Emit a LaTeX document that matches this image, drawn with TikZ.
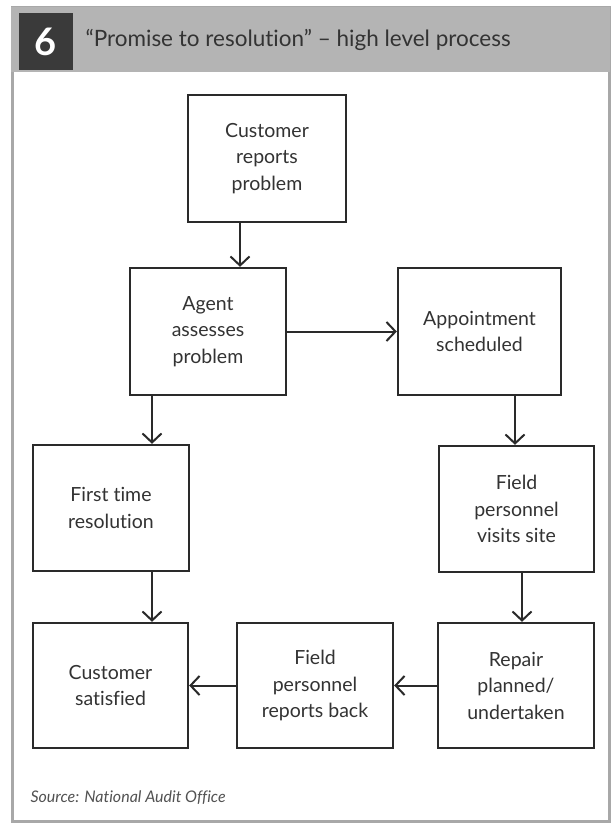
\documentclass[tikz,border=0pt]{standalone}
\usepackage{fontspec}
\setmainfont{Lato}[RawFeature={-liga;-dlig}]
\usetikzlibrary{arrows.meta}
\definecolor{bandgray}{HTML}{B4B4B4}
\definecolor{darkbox}{HTML}{3A3A3A}
\definecolor{framegray}{HTML}{A8A8A8}
\definecolor{txt}{HTML}{333333}
\definecolor{edge}{HTML}{2A2A2A}
\tikzset{
  procbox/.style={draw=edge, line width=2.3pt, fill=white, text=txt, align=center,
    font=\fontsize{19.5}{26.5}\selectfont, inner sep=0pt},
  arr/.style={draw=edge, line width=2pt, -{Straight Barb[length=9pt,width=19pt,line width=2pt]}}
}
\begin{document}
\begin{tikzpicture}[x=1pt,y=-1pt]
\useasboundingbox (0,0) rectangle (611,824);
% panel
\draw[framegray, line width=3pt, fill=white] (12,8) rectangle (609,821);
\fill[bandgray] (11,7) rectangle (610,72);
\fill[darkbox] (19,13) rectangle (73,70);
\node[text=white, font=\bfseries\fontsize{38}{38}\selectfont] (num) at (46,42) {6};
\node[anchor=west, text=txt, font=\fontsize{22.5}{26}\selectfont] (title) at (82,40) {“Promise to resolution” – high level process};
% boxes
\node[procbox, minimum width=158pt, minimum height=127pt] (b1) at (267,158.5) {Customer\\reports\\problem};
\node[procbox, minimum width=156pt, minimum height=127pt] (b2) at (208,331.5) {Agent\\assesses\\problem};
\node[procbox, minimum width=163pt, minimum height=127pt] (b3) at (479.5,331.5) {Appointment\\scheduled};
\node[procbox, minimum width=156pt, minimum height=126pt] (b4) at (111,508) {First time\\resolution};
\node[procbox, minimum width=155pt, minimum height=126pt] (b5) at (516.5,509) {Field\\personnel\\visits site};
\node[procbox, minimum width=155pt, minimum height=125pt] (b6) at (110.5,685.5) {Customer\\satisfied};
\node[procbox, minimum width=156pt, minimum height=125pt] (b7) at (315,685.5) {Field\\personnel\\reports back};
\node[procbox, minimum width=156pt, minimum height=125pt] (b8) at (516,685.5) {Repair\\planned/\\undertaken};
% arrow x positions
\coordinate (xa) at (240,0);
\coordinate (xb) at (152,0);
\coordinate (xc) at (515,0);
\coordinate (xd) at (522,0);
\draw[arr] (b1.south -| xa) -- (b2.north -| xa);
\draw[arr] (b2.east) -- (b3.west);
\draw[arr] (b2.south -| xb) -- (b4.north -| xb);
\draw[arr] (b3.south -| xc) -- (b5.north -| xc);
\draw[arr] (b4.south -| xb) -- (b6.north -| xb);
\draw[arr] (b5.south -| xd) -- (b8.north -| xd);
\draw[arr] (b8.west) -- (b7.east);
\draw[arr] (b7.west) -- (b6.east);
% source
\node[anchor=west, text=txt!85, font=\itshape\fontsize{16}{18}\selectfont] (src) at (27,798) {Source: National Audit Office};
\end{tikzpicture}
\end{document}
